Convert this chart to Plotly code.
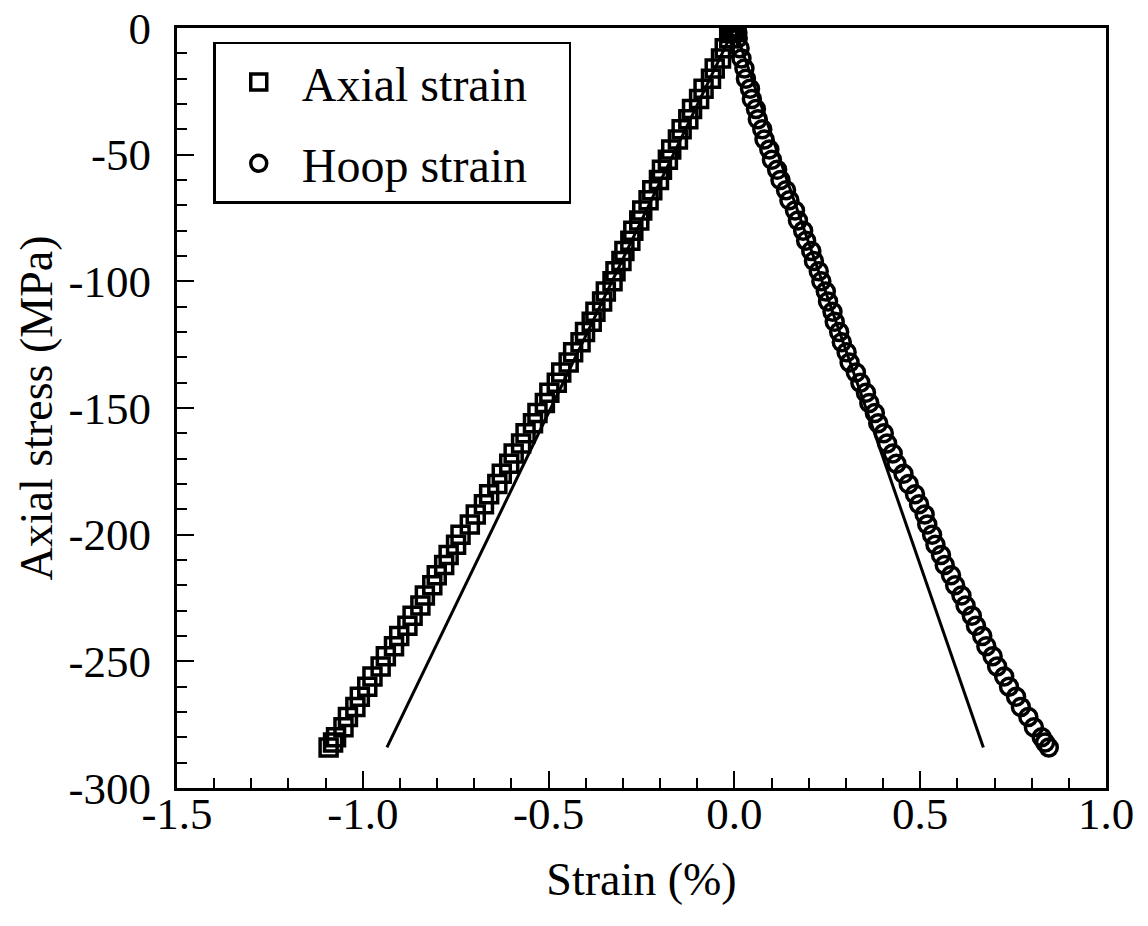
import plotly.graph_objects as go

# Axial stress levels (MPa) shared by both measured series
stress = [0, 0, -1, -2, -4, -8, -12, -16, -20, -24, -28, -32, -36, -40, -44, -48,
          -52, -56, -60, -64, -68, -72, -76, -80, -84, -88, -92, -96, -100,
          -104, -108, -112, -116, -120, -124, -128, -132, -136, -140, -144,
          -148, -152, -156, -160, -164, -168, -172, -176, -180, -184, -188,
          -192, -196, -200, -204, -208, -212, -216, -220, -224, -228, -232,
          -236, -240, -244, -248, -252, -256, -260, -264, -268, -272, -276,
          -280, -282, -284]

# Axial strain (%)
axial_strain = [0.000, -0.008, -0.004, -0.010, -0.014, -0.026, -0.036, -0.053,
                -0.063, -0.083, -0.095, -0.114, -0.124, -0.142, -0.152, -0.170,
                -0.179, -0.195, -0.203, -0.221, -0.231, -0.248, -0.256, -0.272,
                -0.280, -0.296, -0.304, -0.320, -0.328, -0.346, -0.356, -0.374,
                -0.384, -0.402, -0.414, -0.434, -0.446, -0.466, -0.478, -0.498,
                -0.510, -0.530, -0.542, -0.562, -0.574, -0.594, -0.606, -0.626,
                -0.638, -0.660, -0.674, -0.696, -0.712, -0.737, -0.749, -0.769,
                -0.781, -0.801, -0.813, -0.833, -0.845, -0.866, -0.880, -0.902,
                -0.916, -0.938, -0.952, -0.974, -0.988, -1.008, -1.020, -1.040,
                -1.052, -1.072, -1.080, -1.092]

# Hoop strain (%)
hoop_strain = [0.000, 0.006, 0.003, 0.008, 0.009, 0.014, 0.019, 0.027, 0.031,
               0.042, 0.047, 0.058, 0.063, 0.075, 0.081, 0.094, 0.101, 0.115,
               0.124, 0.139, 0.148, 0.163, 0.171, 0.185, 0.193, 0.207, 0.214,
               0.227, 0.234, 0.246, 0.252, 0.264, 0.270, 0.282, 0.289, 0.302,
               0.310, 0.327, 0.339, 0.354, 0.363, 0.378, 0.387, 0.402, 0.411,
               0.426, 0.436, 0.455, 0.469, 0.486, 0.497, 0.512, 0.519, 0.532,
               0.541, 0.556, 0.566, 0.583, 0.594, 0.611, 0.622, 0.639, 0.650,
               0.667, 0.678, 0.695, 0.707, 0.726, 0.739, 0.758, 0.771, 0.791,
               0.806, 0.827, 0.836, 0.846]

# Linear (initial modulus) reference lines
axial_fit_strain = [0.0, -0.935]
hoop_fit_strain = [0.0, 0.670]
fit_stress = [0, -284]

FONT = "Liberation Serif, Times New Roman, serif"
NB = "\u00a0"

fig = go.Figure()
fig.add_trace(go.Scatter(x=axial_fit_strain, y=fit_stress, mode="lines",
                         line=dict(color="black", width=3), showlegend=False,
                         hoverinfo="skip"))
fig.add_trace(go.Scatter(x=hoop_fit_strain, y=fit_stress, mode="lines",
                         line=dict(color="black", width=3), showlegend=False,
                         hoverinfo="skip"))
fig.add_trace(go.Scatter(x=axial_strain, y=stress, mode="markers",
                         name="Axial strain" + NB * 3, legendgroup="a",
                         marker=dict(symbol="square-open", size=17, color="black",
                                     line=dict(width=3.5, color="black"))))
fig.add_trace(go.Scatter(x=hoop_strain, y=stress, mode="markers",
                         name="Hoop strain" + NB * 3, legendgroup="b",
                         marker=dict(symbol="circle-open", size=17, color="black",
                                     line=dict(width=3.5, color="black"))))

axis_common = dict(
    showline=True, linecolor="black", linewidth=3, mirror=True,
    ticks="inside", ticklen=17, tickwidth=2, tickcolor="black",
    showgrid=False, zeroline=False, automargin=False,
    ticklabeloverflow="allow",
    tickfont=dict(family=FONT, size=45, color="black"),
    title_font=dict(family=FONT, size=46, color="black"),
)

fig.update_layout(
    width=1148, height=926,
    margin=dict(l=177, r=42, t=28, b=138),
    paper_bgcolor="white", plot_bgcolor="white",
    font=dict(family=FONT, color="black"),
    xaxis=dict(range=[-1.5, 1.0], tickvals=[-1.5, -1.0, -0.5, 0.0, 0.5, 1.0],
               ticktext=["-1.5", "-1.0", "-0.5", "0.0", "0.5", "1.0"],
               minor=dict(dtick=0.1, ticks="inside", ticklen=10, tickwidth=2,
                          tickcolor="black"),
               title=dict(text="Strain (%)", standoff=25),
               ticklabelstandoff=-16,
               **axis_common),
    yaxis=dict(range=[-300, 0], tickvals=[-300, -250, -200, -150, -100, -50, 0],
               ticktext=["-300", "-250", "-200", "-150", "-100", "-50", "0"],
               minor=dict(dtick=10, ticks="inside", ticklen=10, tickwidth=2,
                          tickcolor="black"),
               title=dict(text="Axial stress (MPa)", standoff=2),
               ticklabelstandoff=14,
               **axis_common),
    legend=dict(x=0.039, y=0.982, xanchor="left", yanchor="top",
                bgcolor="white", bordercolor="black", borderwidth=2.5,
                font=dict(family=FONT, size=48, color="black"),
                tracegroupgap=16, itemsizing="trace", itemwidth=76),
)

fig.write_html("out.html", config={"displayModeBar": False},
               post_script="document.body.style.margin='0';")
